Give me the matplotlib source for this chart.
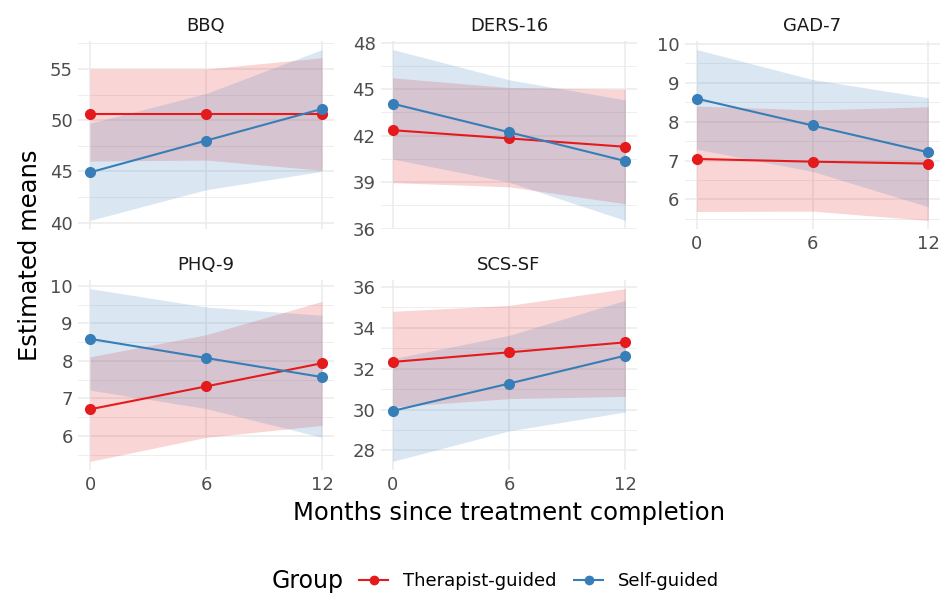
import numpy as np
import matplotlib.pyplot as plt
from matplotlib.lines import Line2D

# Estimated means and 95% CI bands
months = [0, 6, 12]
groups = ["Therapist-guided", "Self-guided"]
colors = {"Therapist-guided": "#E41A1C", "Self-guided": "#377EB8"}

measures = ["BBQ", "DERS-16", "GAD-7", "PHQ-9", "SCS-SF"]

bbq_ther = [50.6, 50.6, 50.6]
bbq_ther_lo = [46.0, 46.1, 45.1]
bbq_ther_hi = [55.0, 55.0, 56.1]
bbq_self = [44.9, 48.0, 51.1]
bbq_self_lo = [40.2, 43.2, 45.0]
bbq_self_hi = [49.7, 52.6, 56.9]

ders_ther = [42.35, 41.82, 41.28]
ders_ther_lo = [38.97, 38.7, 37.6]
ders_ther_hi = [45.73, 45.1, 44.98]
ders_self = [44.06, 42.22, 40.36]
ders_self_lo = [40.49, 39.0, 36.53]
ders_self_hi = [47.55, 45.6, 44.3]

gad_ther = [7.04, 6.97, 6.92]
gad_ther_lo = [5.69, 5.70, 5.46]
gad_ther_hi = [8.40, 8.30, 8.38]
gad_self = [8.59, 7.90, 7.21]
gad_self_lo = [7.29, 6.72, 5.81]
gad_self_hi = [9.85, 9.08, 8.61]

phq_ther = [6.71, 7.32, 7.94]
phq_ther_lo = [5.32, 5.96, 6.28]
phq_ther_hi = [8.11, 8.70, 9.59]
phq_self = [8.59, 8.08, 7.57]
phq_self_lo = [7.22, 6.73, 5.96]
phq_self_hi = [9.93, 9.44, 9.22]

scs_ther = [32.33, 32.80, 33.29]
scs_ther_lo = [30.12, 30.53, 30.64]
scs_ther_hi = [34.81, 35.10, 35.92]
scs_self = [29.93, 31.27, 32.64]
scs_self_lo = [27.46, 28.95, 29.88]
scs_self_hi = [32.49, 33.63, 35.35]

yticks = {
    "BBQ": [40, 45, 50, 55],
    "DERS-16": [36, 39, 42, 45, 48],
    "GAD-7": [6, 7, 8, 9, 10],
    "PHQ-9": [6, 7, 8, 9, 10],
    "SCS-SF": [28, 30, 32, 34, 36],
}

data = {
    "BBQ": {"Therapist-guided": (bbq_ther, bbq_ther_lo, bbq_ther_hi),
            "Self-guided": (bbq_self, bbq_self_lo, bbq_self_hi)},
    "DERS-16": {"Therapist-guided": (ders_ther, ders_ther_lo, ders_ther_hi),
                "Self-guided": (ders_self, ders_self_lo, ders_self_hi)},
    "GAD-7": {"Therapist-guided": (gad_ther, gad_ther_lo, gad_ther_hi),
              "Self-guided": (gad_self, gad_self_lo, gad_self_hi)},
    "PHQ-9": {"Therapist-guided": (phq_ther, phq_ther_lo, phq_ther_hi),
              "Self-guided": (phq_self, phq_self_lo, phq_self_hi)},
    "SCS-SF": {"Therapist-guided": (scs_ther, scs_ther_lo, scs_ther_hi),
               "Self-guided": (scs_self, scs_self_lo, scs_self_hi)},
}

W, H = 952, 594
fig = plt.figure(figsize=(W / 100, H / 100), dpi=100)

# panel boxes in pixels: (left, top, right, bottom)
cols = [(78.4, 333.6), (381.0, 637.0), (685.0, 940.0)]
rows = [(41.0, 229.0), (280.0, 470.0)]
grid = "#EBEBEB"

for i, name in enumerate(measures):
    r, c = divmod(i, 3)
    x0, x1 = cols[c]
    y0, y1 = rows[r]
    ax = fig.add_axes([x0 / W, 1 - y1 / H, (x1 - x0) / W, (y1 - y0) / H])

    lows, highs = [], []
    for g in groups:
        mean, lo, hi = data[name][g]
        ax.fill_between(months, lo, hi, color=colors[g], alpha=0.18, lw=0)
        lows += lo
        highs += hi
    for g in groups:
        mean, lo, hi = data[name][g]
        ax.plot(months, mean, color=colors[g], lw=1.5, marker="o", ms=7, zorder=3)

    lo_all, hi_all = min(lows), max(highs)
    pad = 0.05 * (hi_all - lo_all)
    ax.set_xlim(-0.6, 12.6)

    yt = yticks[name]
    step = yt[1] - yt[0]
    ax.set_yticks(yt)
    ax.set_yticks([t + step / 2 for t in [yt[0] - step] + yt], minor=True)
    ax.set_xticks(months)
    ax.set_ylim(lo_all - pad, hi_all + pad)
    ax.grid(True, which="major", color=grid, lw=1.1)
    ax.grid(True, which="minor", axis="y", color=grid, lw=0.6)
    ax.set_axisbelow(True)
    for s in ax.spines.values():
        s.set_visible(False)
    ax.tick_params(which="both", length=0, labelsize=13, colors="#4D4D4D", pad=4)
    if name in ("BBQ", "DERS-16"):
        ax.tick_params(axis="x", labelbottom=False)
    ax.set_title(name, fontsize=13, color="#1A1A1A", pad=7)

fig.text(30 / W, 1 - 255 / H, "Estimated means", rotation=90, fontsize=17.5,
         ha="center", va="center", color="black")
fig.text(509 / W, 1 - 513 / H, "Months since treatment completion", fontsize=17.5,
         ha="center", va="center", color="black")

fig.text(308 / W, 1 - 581 / H, "Group", fontsize=17, ha="center", va="center")
handles = [Line2D([0], [0], color=colors[g], lw=1.5, marker="o", ms=6) for g in groups]
fig.legend(handles, groups, loc="center left", bbox_to_anchor=(343 / W, 1 - 581 / H),
           ncol=2, frameon=False, fontsize=13, handlelength=1.6, handletextpad=0.8,
           columnspacing=1.0)

fig.savefig("out.png", dpi=100, facecolor="white")
